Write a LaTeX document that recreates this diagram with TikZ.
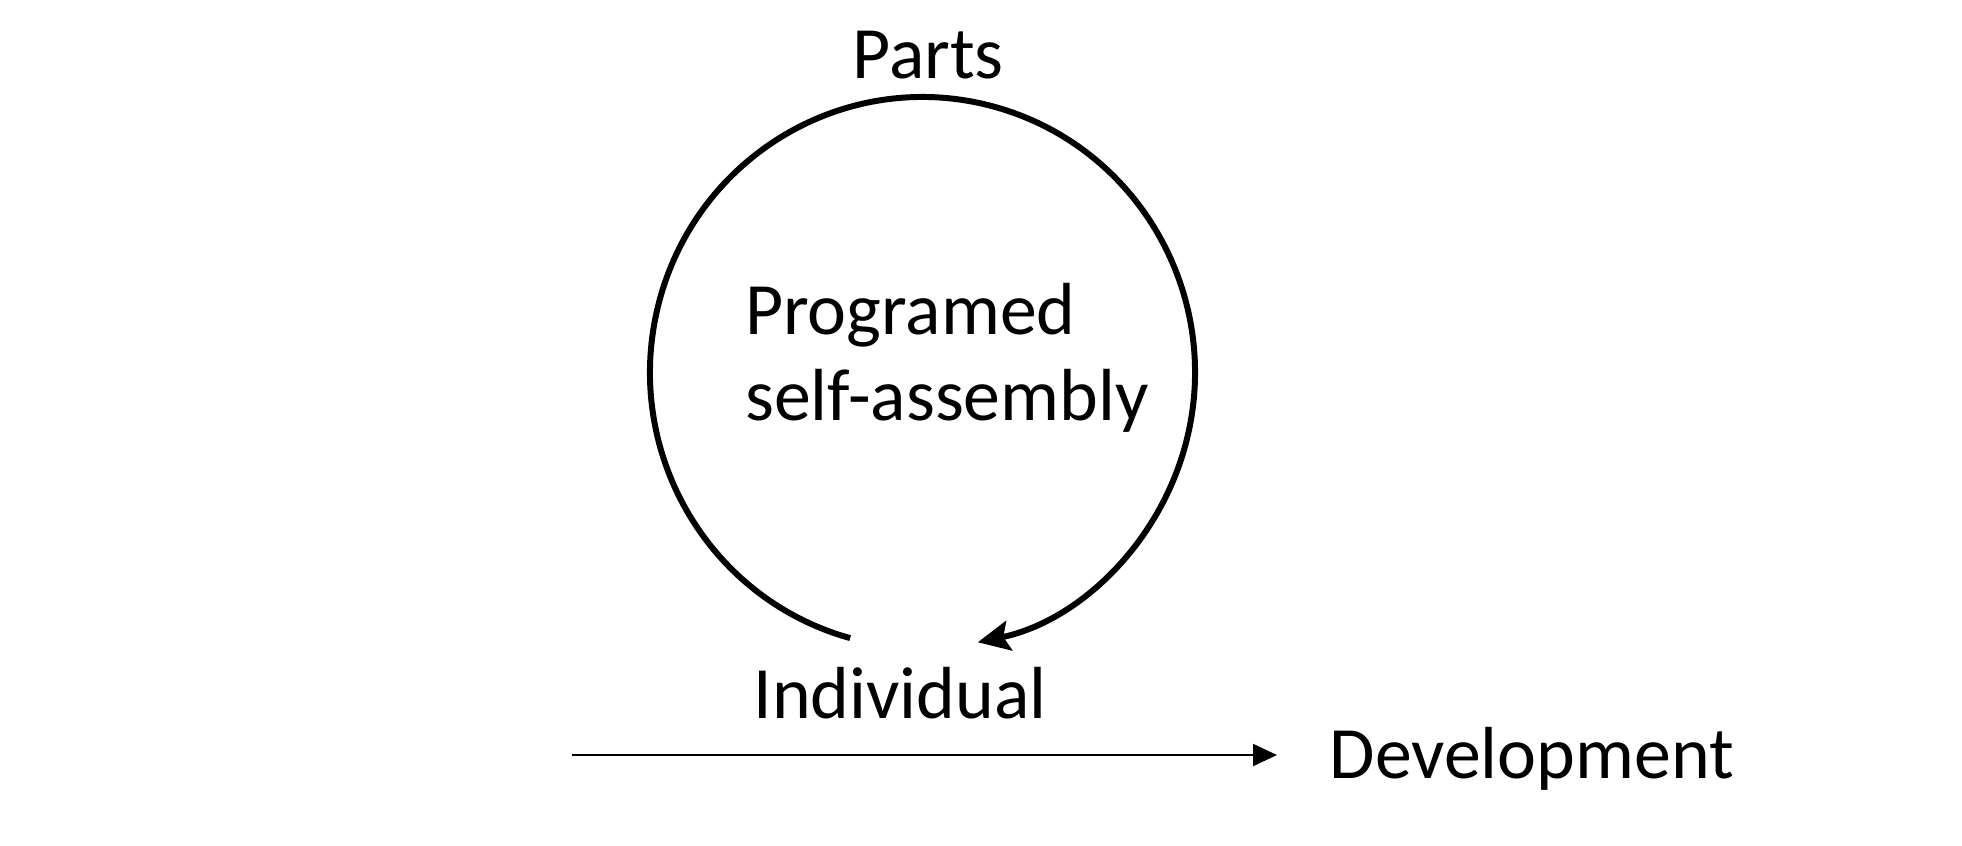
\documentclass[tikz,border=0pt]{standalone}
\usepackage{fontspec}
\setmainfont{Carlito}
\usetikzlibrary{arrows.meta, positioning}
\tikzset{
  lbl/.style={inner sep=0pt, font=\fontsize{21}{24.5}\selectfont},
  loopline/.style={line width=1.7pt, -{Stealth[length=3.2mm, width=3.0mm, inset=0.6mm]}},
  line/.style={line width=0.6pt, -{Triangle[length=2.4mm, width=2.2mm]}}
}
\begin{document}
\begin{tikzpicture}
    \useasboundingbox (0,0) rectangle (19.62,-8.45);
    \coordinate (ctr) at (9.225,-3.725);
    \node[lbl, anchor=base] (parts) at (9.28,-0.78) {Parts};
    \node[lbl, align=left] (prog) at (9.47,-3.58) {Programed\\self-assembly};
    \node[lbl, anchor=base] (ind) at (9.00,-7.18) {Individual};
    \node[lbl, anchor=base west] (dev) at (13.29,-7.78) {Development};
    \coordinate (dstart) at (5.72,-7.55);
    \draw[loopline] ([shift={(-105.4:2.725 and 2.755)}]ctr)
        arc[start angle=-105.4, end angle=-438.3, x radius=2.725, y radius=2.755];
    \draw[line, shorten >=5.2mm] (dstart) -- (dstart -| dev.west);
\end{tikzpicture}
\end{document}
